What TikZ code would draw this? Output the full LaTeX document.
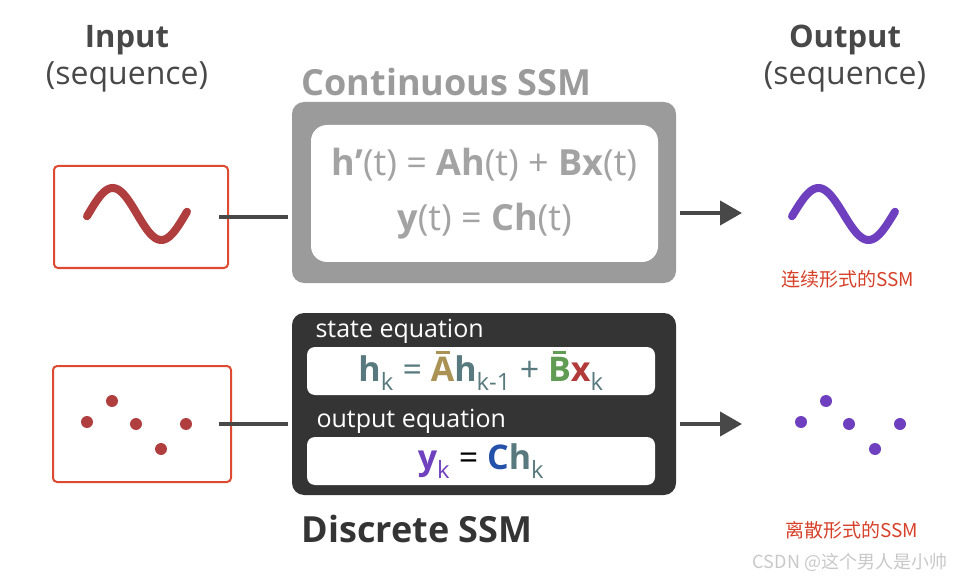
\documentclass[tikz,border=0pt]{standalone}
\usepackage{fontspec}
\usepackage{xcolor}
\usetikzlibrary{arrows.meta, positioning}
\setmainfont{Open Sans}
\newfontfamily\cjk{Noto Sans CJK SC}
\definecolor{framered}{RGB}{220,74,50}
\definecolor{wavered}{RGB}{176,62,62}
\definecolor{wavepurple}{RGB}{110,64,192}
\definecolor{linegray}{RGB}{72,72,72}
\definecolor{contgray}{RGB}{155,155,155}
\definecolor{conttext}{RGB}{163,163,163}
\definecolor{discdark}{RGB}{52,52,52}
\definecolor{headgray}{RGB}{72,72,72}
\definecolor{hcol}{RGB}{88,122,126}
\definecolor{acol}{RGB}{170,146,84}
\definecolor{bcol}{RGB}{96,156,84}
\definecolor{xcol}{RGB}{178,58,58}
\definecolor{ycol}{RGB}{112,66,190}
\definecolor{ccol}{RGB}{36,82,170}
\definecolor{labred}{RGB}{214,64,40}
\definecolor{markgray}{RGB}{200,200,200}
% bold letter with a short bar on top
\newcommand{\barltr}[1]{\setbox0\hbox{\textbf{#1}}%
  \rlap{\hbox to \wd0{\hss\rule[0.8em]{0.6\wd0}{0.07em}\hss}}\box0}
\tikzset{
  seqbox/.style={rectangle, rounded corners=4pt, draw=framered, line width=2pt},
  outerbox/.style={rectangle, rounded corners=12pt, minimum width=384pt},
  eqbox/.style={rectangle, rounded corners=8pt, fill=white, minimum width=348pt,
                minimum height=48pt},
  head/.style={font=\fontsize{31}{36}\selectfont\bfseries, text=headgray},
  sub/.style={font=\fontsize{32}{38}\selectfont, text=headgray},
  conn/.style={line width=4pt, color=linegray},
  arr/.style={conn, -{Triangle[length=22pt, width=24pt]}},
  wave/.style={line width=8pt, line cap=round},
  lab/.style={font=\cjk\fontsize{19}{22}\selectfont, text=labred},
}

\begin{document}
\begin{tikzpicture}[x=1pt, y=-1pt]
  \useasboundingbox (0,0) rectangle (956,580);

  % headings
  \node[head] (inHead) at (127,40) {Input};
  \node[sub] (inSub) at (127,77) {(sequence)};
  \node[head] (outHead) at (845,40) {Output};
  \node[sub] (outSub) at (845,77) {(sequence)};

  % continuous SSM
  \node[font=\fontsize{36}{42}\selectfont\bfseries, text=contgray, anchor=west]
    (contTitle) at (298,82) {Continuous SSM};
  \node[outerbox, fill=contgray, minimum height=181pt] (contOuter) at (484,192.5) {};
  \node[rectangle, rounded corners=16pt, fill=white, minimum width=347pt,
        minimum height=137pt, align=center, text=conttext,
        font=\fontsize{36}{55}\selectfont] (contInner) at (484.5,193.5)
    {\textbf{h’}(t) = \textbf{Ah}(t) + \textbf{Bx}(t)\\ \textbf{y}(t) = \textbf{Ch}(t)};

  % discrete SSM
  \node[outerbox, fill=discdark, minimum height=182pt] (discOuter) at (484,404) {};
  \node[font=\fontsize{25}{30}\selectfont, text=white, anchor=west]
    (stateLab) at (312,331) {state equation};
  \node[eqbox, font=\fontsize{34}{38}\selectfont] (stateBox) at (481,371)
    {\color{hcol}\textbf{h}\textsubscript{k} = {\color{acol}\barltr{A}}\textbf{h}\textsubscript{k-1}
     + {\color{bcol}\barltr{B}}{\color{xcol}\textbf{x}}\textsubscript{k}};
  \node[font=\fontsize{25}{30}\selectfont, text=white, anchor=west]
    (outLab) at (313,421) {output equation};
  \node[eqbox, font=\fontsize{34}{38}\selectfont] (outBox) at (481,461)
    {{\color{ycol}\textbf{y}\textsubscript{k}} = {\color{ccol}\textbf{C}}{\color{hcol}\textbf{h}\textsubscript{k}}};
  \node[font=\fontsize{36}{42}\selectfont\bfseries, text=discdark, anchor=west]
    (discTitle) at (298,529) {Discrete SSM};

  % input sequences
  \node[seqbox, minimum width=174pt, minimum height=102pt] (inCont) at (141,217) {};
  \node[seqbox, minimum width=178pt, minimum height=116pt] (inDisc) at (142,424) {};
  \draw[wave, wavered] plot[domain=-5:365, samples=60, smooth]
    ({87+(\x+5)/370*100}, {214-26*sin(\x)});
  \foreach \px/\py in {87/422, 112/401, 136/424, 161/449, 186/424}
    \fill[wavered] (\px,\py) circle (6);

  % output sequences
  \draw[wave, wavepurple] plot[domain=-5:365, samples=60, smooth]
    ({792+(\x+5)/370*103}, {214-26*sin(\x)});
  \foreach \px/\py in {801/422, 826/401, 849/424, 875/449, 900/424}
    \fill[wavepurple] (\px,\py) circle (6);
  \coordinate (outContTip) at (742,213);
  \coordinate (outDiscTip) at (742,424);

  % connectors
  \draw[conn] ([xshift=-10pt]inCont.east) -- ([xshift=-4pt]contOuter.west |- inCont.east);
  \draw[conn] ([xshift=-13pt]inDisc.east) -- ([xshift=-4pt]discOuter.west |- inDisc.east);
  \draw[arr] ([xshift=4pt]contOuter.east |- outContTip) -- (outContTip);
  \draw[arr] ([xshift=4pt]discOuter.east |- outDiscTip) -- (outDiscTip);

  % labels
  \node[lab] (contLab) at (848,279) {连续形式的SSM};
  \node[lab] (discLab) at (852,530) {离散形式的SSM};
  \node[font=\cjk\fontsize{18}{21}\selectfont, text=markgray] (mark) at (850,562)
    {CSDN @这个男人是小帅};
\end{tikzpicture}
\end{document}
